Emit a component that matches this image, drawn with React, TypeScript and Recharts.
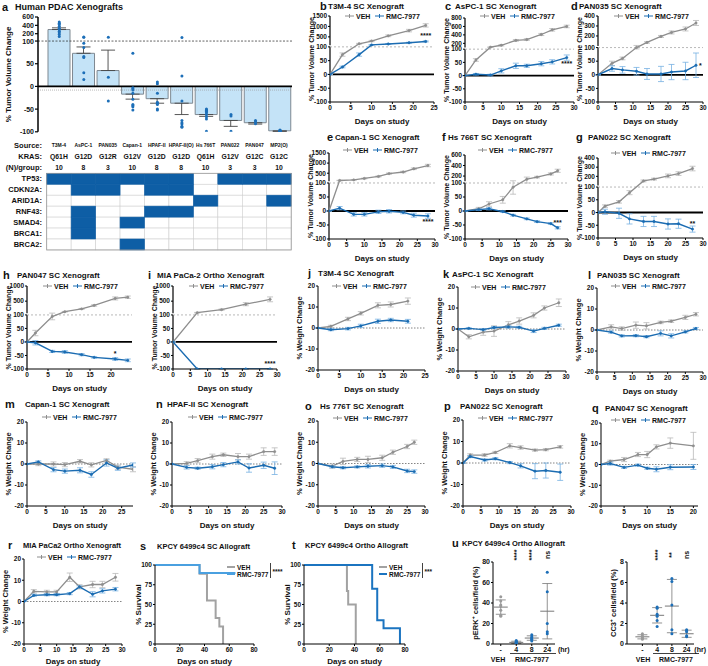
import React from "react";
import {
  LineChart,
  Line,
  XAxis,
  YAxis,
  ReferenceLine,
  ReferenceDot,
  ErrorBar,
  ComposedChart,
  Bar,
  Scatter,
  ScatterChart,
} from "recharts";

const FONT = "'Liberation Sans', Arial, Helvetica, sans-serif";
const INK = "#111";
const VEH_C = "#8e8e8e";
const RMC_C = "#1b6cb2";
const VEH_BAR = "#b9b9b9";
const RMC_BAR = "#77b1e2";
const TABLE_BLUE = "#0e5ea5";
const GAP = 6;

// ---------- a: waterfall + genotype table ----------
const SOURCES = ["T3M-4", "AsPC-1", "PAN035", "Capan-1", "HPAF-II", "HPAF-II(O)", "Hs 766T", "PAN022", "PAN047", "MP2(O)"];
const KRAS = ["Q61H", "G12D", "G12R", "G12V", "G12D", "G12D", "Q61H", "G12V", "G12C", "G12C"];
const N_PER_GROUP = [10, 8, 3, 10, 8, 8, 10, 3, 3, 10];
const GENES = ["TP53", "CDKN2A", "ARID1A", "RNF43", "SMAD4", "BRCA1", "BRCA2"];
const MUTATED = [
  [1, 1, 1, 1, 1, 1, 0, 1, 1, 1],
  [0, 1, 1, 0, 1, 1, 0, 0, 0, 0],
  [0, 0, 0, 0, 0, 0, 1, 0, 0, 1],
  [0, 1, 0, 0, 1, 1, 0, 0, 0, 0],
  [0, 1, 0, 1, 0, 0, 0, 0, 0, 0],
  [0, 1, 0, 0, 0, 0, 0, 0, 0, 0],
  [0, 0, 0, 1, 0, 0, 0, 0, 0, 0],
];
const A_MEAN = [300, 73, 35, -17, -27, -37, -62, -75, -80, -98];
const A_SEM = [40, 14, 45, 11, 10, 25, 4, 13, 3, 1];
const A_POINTS = [
  [480, 450, 420, 380, 330, 300, 260, 220, 180, 130],
  [120, 112, 95, 86, 66, 64, 30, 15],
  [112, 20, -32],
  [73, -3, -5, -8, -15, -28, -40, -42, -45, -52],
  [10, 6, -15, -35, -37, -40, -52, -50],
  [110, 23, -32, -75, -80, -83, -88, -90],
  [-50, -52, -52, -53, -55, -58, -62, -67, -72, -99],
  [-62, -65, -99],
  [-75, -78, -82],
  [-96, -97, -97, -98, -98, -98, -99, -99, -99, -100],
];

// ---------- tumour volume (b–i) ----------
const B_DAYS = [0, 3, 7, 10, 14, 19, 23];
const B_VEH = [0, 72, 170, 300, 550, 800, 1050];
const B_VEH_SD = [0, 6, 20, 30, 40, 60, 80];
const B_RMC = [0, 27, 72, 115, 160, 220, 280];
const B_RMC_SD = [0, 3, 6, 10, 15, 20, 25];

const C_DAYS = [0, 3, 7, 10, 14, 17, 21, 24, 28];
const C_VEH = [0, 59, 110, 155, 270, 290, 410, 520, 600];
const C_VEH_SD = [0, 5, 8, 15, 20, 20, 25, 30, 30];
const C_RMC = [0, 5, 2, 18, 37, 37, 45, 52, 68];
const C_RMC_SD = [0, 3, 3, 8, 10, 6, 8, 8, 10];

const D_DAYS = [0, 4, 7, 11, 14, 18, 21, 25, 28];
const D_VEH = [0, 42, 60, 100, 135, 195, 235, 270, 330];
const D_VEH_SD = [0, 8, 5, 5, 8, 10, 15, 20, 25];
const D_RMC = [0, 23, 18, 13, 3, 3, 10, 14, 35];
const D_RMC_SD = [0, 10, 12, 14, 20, 28, 28, 32, 45];

const E_DAYS = [0, 3, 7, 10, 14, 17, 21, 24, 28];
const E_VEH = [0, 140, 170, 240, 340, 480, 560, 720, 880];
const E_VEH_SD = [0, 10, 15, 20, 25, 30, 35, 40, 60];
const E_RMC = [0, 10, -12, -12, -3, -1, -5, -15, -18];
const E_RMC_SD = [0, 6, 6, 6, 6, 6, 5, 7, 8];

const F_DAYS = [0, 4, 7, 11, 14, 18, 21, 25, 27];
const F_VEH = [0, 8, 25, 40, 85, 140, 180, 240, 300];
const F_VEH_SD = [0, 5, 8, 12, 25, 40, 15, 20, 30];
const F_RMC = [0, 5, 8, -2, -15, -28, -38, -45, -60];
const F_RMC_SD = [0, 3, 4, 3, 3, 3, 3, 3, 4];

const G_DAYS = [0, 2, 6, 9, 13, 16, 20, 23, 27];
const G_VEH = [0, 25, 42, 78, 150, 170, 205, 230, 285];
const G_VEH_SD = [0, 5, 5, 8, 10, 10, 20, 20, 25];
const G_RMC = [0, 3, -3, -25, -35, -35, -45, -44, -65];
const G_RMC_SD = [0, 10, 20, 20, 20, 20, 20, 18, 12];

const H_DAYS = [0, 2, 6, 9, 13, 16, 21, 24];
const H_VEH = [0, 33, 94, 152, 245, 360, 590, 630];
const H_VEH_SD = [0, 10, 12, 10, 15, 25, 50, 40];
const H_RMC = [0, -3, -35, -37, -47, -57, -63, -68];
const H_RMC_SD = [0, 8, 4, 5, 4, 3, 5, 5];

const I_DAYS = [0, 7, 14, 21, 28];
const I_VEH = [0, 120, 220, 400, 560];
const I_VEH_SD = [0, 10, 20, 50, 80];
const I_RMC = [0, -100, -100, -100, -100];
const I_RMC_SD = [0, 0, 0, 0, 0];

// ---------- body weight (j–r) ----------
const J_DAYS = [0, 3, 7, 10, 14, 17, 21];
const J_VEH = [0, 0.8, 4.3, 7, 10.8, 11.2, 12.8];
const J_VEH_SD = [0, 0.5, 0.8, 0.8, 1.2, 1.2, 1.5];
const J_RMC = [0, -0.8, -0.3, 1, 3.2, 3.8, 3.2];
const J_RMC_SD = [0, 0.5, 0.6, 0.8, 1, 0.8, 0.9];

const K_DAYS = [0, 3, 7, 10, 14, 17, 21, 24, 28];
const K_VEH = [0, -3.7, -1.5, -1, 2, 3.8, 6.5, 10, 12.5];
const K_VEH_SD = [0, 1, 1.5, 2.5, 1.5, 1.5, 1.2, 1, 1.8];
const K_RMC = [0, 0.3, -0.3, 0.7, 1, 0.8, -1, 0.3, 1.8];
const K_RMC_SD = [0, 0.3, 0.5, 0.5, 0.6, 0.5, 0.7, 0.5, 0.5];

const L_DAYS = [0, 4, 7, 11, 14, 18, 21, 25, 28];
const L_VEH = [0, 1.5, 0.7, 2.3, 2, 3.6, 4.2, 6, 7.5];
const L_VEH_SD = [0, 1, 0.8, 1.5, 1.5, 0.6, 0.6, 1, 0.8];
const L_RMC = [0, -1, -2.8, -2.7, -3.2, -1.6, -2.8, -0.9, 0.7];
const L_RMC_SD = [0, 0.5, 0.5, 0.5, 0.5, 1.2, 1, 0.5, 0.5];

const M_DAYS = [0, 3, 7, 10, 14, 17, 21, 24, 28];
const M_VEH = [0, 0, 0, -0.3, 1.3, -0.4, 1.7, -1.5, -2.5];
const M_VEH_SD = [0, 0.8, 1, 1, 0.8, 1, 0.8, 1, 1.2];
const M_RMC = [0, 1, -2.7, -3.4, -3, -5, 0.5, -2, -0.5];
const M_RMC_SD = [0, 0.5, 1, 1, 1.2, 1.3, 1.5, 1, 1];

const N_DAYS = [0, 4, 7, 11, 14, 18, 21, 25, 28];
const N_VEH = [0, 0.3, 1.6, 3.5, 4.4, 3.5, 3.5, 5.9, 5.9];
const N_VEH_SD = [0, 0.8, 1, 1.2, 0.8, 1.5, 1.2, 1.8, 1.8];
const N_RMC = [0, -1.6, -2, -1.3, -0.3, 1, -1.9, -0.6, -2];
const N_RMC_SD = [0, 0.8, 0.5, 1, 1, 1, 2, 1.5, 3];

const O_DAYS = [0, 4, 7, 11, 14, 18, 21, 25, 27];
const O_VEH = [0, -1.2, 1, 1.9, 1.9, 2.7, 5.3, 8, 10];
const O_VEH_SD = [0, 1, 1.5, 1, 1.5, 1.2, 1, 1, 1];
const O_RMC = [0, -1.5, -2, -1.6, -1.3, -1, -1.6, -3.5, -3.8];
const O_RMC_SD = [0, 0.5, 0.5, 0.5, 0.8, 0.8, 0.7, 0.8, 0.8];

const P_DAYS = [0, 2, 6, 9, 13, 16, 20, 23, 27];
const P_VEH = [0, 3.7, 3.7, 4.9, 8, 7.2, 6, 6.2, 7.5];
const P_VEH_SD = [0, 0.6, 0.6, 0.5, 1, 0.8, 0.5, 0.5, 0.6];
const P_RMC = [0, 3, 1.4, 2, 0.2, -1.3, -3.8, -3.5, -4.3];
const P_RMC_SD = [0, 0.5, 0.5, 0.5, 0.5, 1, 3.5, 3.5, 3.8];

const Q_DAYS = [0, 2, 5, 8, 10, 12, 15, 20];
const Q_VEH = [0, 1.6, 2.4, 4.8, 4.8, 8.5, 10.3, 9];
const Q_VEH_SD = [0, 0.5, 1, 1, 1.5, 1, 2.5, 6.5];
const Q_RMC = [0, 0.5, -1.4, -0.3, -1.8, -2.3, -1.3, -1.2];
const Q_RMC_SD = [0, 0.8, 0.5, 0.5, 0.5, 1.2, 1.2, 1.2];

const R_DAYS = [0, 3, 7, 10, 14, 17, 21, 24, 28];
const R_VEH = [0, 4.8, 4.5, 4.5, 11.4, 6.9, 8, 8, 11.4];
const R_VEH_SD = [0, 0.8, 0.8, 0.8, 2, 1, 1.5, 1.5, 1.8];
const R_RMC = [0, 2.9, 3.2, 3.2, 3.7, 6.9, 3.4, 5, 5.8];
const R_RMC_SD = [0, 0.5, 0.5, 0.5, 0.5, 0.5, 1.2, 1, 0.8];

// ---------- survival (s, t) ----------
const S_VEH_DAYS = [0, 36, 42, 49, 52, 55];
const S_VEH_PCT = [100, 89, 55, 33, 22, 0];
const S_RMC_DAYS = [0, 36, 65];
const S_RMC_PCT = [100, 90, 90];
const T_VEH_DAYS = [0, 34, 35, 41];
const T_VEH_PCT = [100, 67, 50, 0];
const T_RMC_DAYS = [0, 54, 58, 63, 76];
const T_RMC_PCT = [100, 70, 30, 20, 0];

// ---------- u: IHC quantification ----------
const U_GROUPS = ["-", "4", "8", "24"];
const PERK_POINTS = [
  [46, 42, 38, 37, 33, 28, 27],
  [3.5, 2.5, 2, 1.5, 1, 0.5, 0.5],
  [9, 7, 6, 5, 4.5, 3],
  [70, 51, 20, 12, 10],
];
const PERK_MEAN = [36, 1.6, 5.8, 32];
const PERK_SD = [7, 1.1, 2.2, 27];
const PERK_SIG = ["", "****", "****", "ns"];
const CC3_POINTS = [
  [1.0, 0.8, 0.7, 0.6, 0.5, 0.5],
  [3.6, 3.5, 2.9, 2.7, 2.3, 1.7],
  [6.4, 6.1, 3.8, 1.4, 1.0],
  [1.4, 1.3, 1.2, 0.8, 0.7],
];
const CC3_MEAN = [0.7, 2.8, 3.7, 1.0];
const CC3_SD = [0.2, 0.75, 2.6, 0.35];
const CC3_SIG = ["", "****", "**", "ns"];

const TICK = { fontSize: 6.5, fontWeight: 700, fill: INK };
const AX = { stroke: "#000", strokeWidth: 1 };
const DAYS_LABEL = { value: "Days on study", position: "insideBottom", offset: 0, fontSize: 8, fontWeight: 700, fill: INK };

function brokenScale(max: number, frac: number, gap = GAP) {
  const k = (frac * 200) / (max - 100);
  return (v: number) => (v <= 100 ? v : 100 + gap + (v - 100) * k);
}

function toRows(days: number[], vals: number[], sd: number[], f: (v: number) => number) {
  return days.map((d, i) => {
    const y = f(vals[i]);
    return { day: d, y, e: [y - f(vals[i] - sd[i]), f(vals[i] + sd[i]) - y] };
  });
}

function VLabel(props: any) {
  const { viewBox, value, dx = 5, size = 7.5 } = props;
  if (!viewBox) return null;
  const x = viewBox.x + dx;
  const y = viewBox.y + viewBox.height / 2;
  return (
    <text x={x} y={y} transform={`rotate(-90 ${x} ${y})`} textAnchor="middle" dominantBaseline="central"
      fontSize={size} fontWeight={700} fill={INK}>
      {value}
    </text>
  );
}

type Box = { x: number; y: number; w: number; h: number };

function spec(days, veh, vehSd, rmc, rmcSd, xMax, xTicks, broken?, stars?) {
  return { days, veh, vehSd, rmc, rmcSd, xMax, xTicks, broken, stars };
}

const T30 = [0, 5, 10, 15, 20, 25, 30];
const T25 = [0, 5, 10, 15, 20, 25];
const T20 = [0, 5, 10, 15, 20];

const LINE_PANELS = [
  { id: "b", box: { x: 330, y: 16, w: 104, h: 86 }, s: spec(B_DAYS, B_VEH, B_VEH_SD, B_RMC, B_RMC_SD, 25, T25, { max: 1500, upper: [500, 1000, 1500], frac: 0.53 }, { text: "****", idx: 6, pos: "top" }) },
  { id: "c", box: { x: 465, y: 18, w: 109, h: 84 }, s: spec(C_DAYS, C_VEH, C_VEH_SD, C_RMC, C_RMC_SD, 30, T30, { max: 800, upper: [200, 400, 600, 800], frac: 0.56 }, { text: "****", idx: 8, pos: "bottom" }) },
  { id: "d", box: { x: 598, y: 16, w: 105, h: 86 }, s: spec(D_DAYS, D_VEH, D_VEH_SD, D_RMC, D_RMC_SD, 30, T30, { max: 400, upper: [200, 300, 400], frac: 0.55 }, { text: "*", idx: 8, pos: "right" }) },
  { id: "e", box: { x: 329, y: 153, w: 106, h: 86 }, s: spec(E_DAYS, E_VEH, E_VEH_SD, E_RMC, E_RMC_SD, 30, T30, { max: 1500, upper: [500, 1000, 1500], frac: 0.505 }, { text: "****", idx: 8, pos: "bottom" }) },
  { id: "f", box: { x: 465, y: 155, w: 103, h: 84 }, s: spec(F_DAYS, F_VEH, F_VEH_SD, F_RMC, F_RMC_SD, 30, T30, { max: 600, upper: [200, 400, 600], frac: 0.47 }, { text: "***", idx: 8, pos: "top" }) },
  { id: "g", box: { x: 598, y: 158, w: 105, h: 80 }, s: spec(G_DAYS, G_VEH, G_VEH_SD, G_RMC, G_RMC_SD, 30, T30, { max: 400, upper: [200, 300, 400], frac: 0.54 }, { text: "**", idx: 8, pos: "top" }) },
  { id: "h", box: { x: 27, y: 286, w: 105, h: 83 }, s: spec(H_DAYS, H_VEH, H_VEH_SD, H_RMC, H_RMC_SD, 25, T20, { max: 1000, upper: [500, 1000], frac: 0.505 }, { text: "*", idx: 6, pos: "top" }) },
  { id: "i", box: { x: 173, y: 286, w: 104, h: 83 }, s: spec(I_DAYS, I_VEH, I_VEH_SD, I_RMC, I_RMC_SD, 30, T30, { max: 1000, upper: [500, 1000], frac: 0.505 }, { text: "****", idx: 4, pos: "top" }) },
  { id: "j", box: { x: 318, y: 286, w: 107, h: 84 }, s: spec(J_DAYS, J_VEH, J_VEH_SD, J_RMC, J_RMC_SD, 25, T25) },
  { id: "k", box: { x: 458, y: 287, w: 108, h: 84 }, s: spec(K_DAYS, K_VEH, K_VEH_SD, K_RMC, K_RMC_SD, 30, T30) },
  { id: "l", box: { x: 597, y: 288, w: 106, h: 84 }, s: spec(L_DAYS, L_VEH, L_VEH_SD, L_RMC, L_RMC_SD, 30, T30) },
  { id: "m", box: { x: 27, y: 422, w: 106, h: 84 }, s: spec(M_DAYS, M_VEH, M_VEH_SD, M_RMC, M_RMC_SD, 28, T25) },
  { id: "n", box: { x: 172, y: 422, w: 110, h: 84 }, s: spec(N_DAYS, N_VEH, N_VEH_SD, N_RMC, N_RMC_SD, 30, T30) },
  { id: "o", box: { x: 318, y: 421, w: 107, h: 85 }, s: spec(O_DAYS, O_VEH, O_VEH_SD, O_RMC, O_RMC_SD, 30, T30) },
  { id: "p", box: { x: 463, y: 420, w: 108, h: 86 }, s: spec(P_DAYS, P_VEH, P_VEH_SD, P_RMC, P_RMC_SD, 30, T30) },
  { id: "q", box: { x: 601, y: 423, w: 97, h: 83 }, s: spec(Q_DAYS, Q_VEH, Q_VEH_SD, Q_RMC, Q_RMC_SD, 21, T20) },
  { id: "r", box: { x: 24, y: 559, w: 98, h: 85 }, s: spec(R_DAYS, R_VEH, R_VEH_SD, R_RMC, R_RMC_SD, 30, T30), xh: 20 },
];

function LinePanel({ box, s, xh = 22 }: { box: Box; s: any; xh?: number }) {
  const yw = 24, mt = 4, mr = 6, mb = 3;
  const br = s.broken;
  const f = br ? brokenScale(br.max, br.frac) : (v: number) => v;
  const base = br ? [-100, -50, 0, 50, 100] : [-20, -10, 0, 10, 20];
  const ticks = br ? [...base, ...br.upper.map(f)] : base;
  const names = (br ? [...base, ...br.upper] : base).map(String);
  const fmt = (v: number) => {
    const i = ticks.findIndex((t) => Math.abs(t - v) < 1e-6);
    return i < 0 ? "" : names[i];
  };
  const lo = br ? -100 : -20;
  const hi = br ? f(br.max) : 20;
  const veh = toRows(s.days, s.veh, s.vehSd, f);
  const rmc = toRows(s.days, s.rmc, s.rmcSd, f);
  const star = s.stars ? rmc[s.stars.idx] : null;
  return (
    <div style={{ position: "absolute", left: box.x - yw, top: box.y - mt }}>
      <LineChart width={box.w + yw + mr} height={box.h + mt + xh + mb} margin={{ top: mt, right: mr, bottom: mb, left: 0 }}>
        <XAxis type="number" dataKey="day" domain={[0, s.xMax]} ticks={s.xTicks} interval={0} allowDataOverflow
          height={xh} tick={TICK} tickSize={2} tickMargin={1} axisLine={AX} tickLine={AX} label={DAYS_LABEL} />
        <YAxis type="number" domain={[lo, hi]} ticks={ticks} interval={0} allowDataOverflow tickFormatter={fmt}
          width={yw} tick={TICK} tickSize={2} tickMargin={1} axisLine={br ? false : AX} tickLine={AX}
          label={<VLabel value={br ? "% Tumor Volume Change" : "% Weight Change"} dx={5} size={br ? 7 : 7.5} />} />
        {br && <ReferenceLine segment={[{ x: 0, y: -100 }, { x: 0, y: 100 }]} stroke="#000" strokeWidth={1.2} />}
        {br && <ReferenceLine segment={[{ x: 0, y: 100 + GAP }, { x: 0, y: hi }]} stroke="#000" strokeWidth={1.2} />}
        {br && <ReferenceLine y={100} stroke="#9a9a9a" strokeDasharray="2 2" strokeWidth={0.7} />}
        {br ? (
          <ReferenceLine y={0} stroke="#000" strokeWidth={1.8} />
        ) : (
          <ReferenceLine y={0} stroke="#666" strokeDasharray="1.5 1.5" strokeWidth={0.8} />
        )}
        <Line data={veh} dataKey="y" stroke={VEH_C} strokeWidth={1.3} isAnimationActive={false}
          dot={{ r: 1.2, fill: VEH_C, stroke: VEH_C, strokeWidth: 0.5 }}>
          <ErrorBar dataKey="e" width={3} stroke={VEH_BAR} strokeWidth={0.8} direction="y" />
        </Line>
        <Line data={rmc} dataKey="y" stroke={RMC_C} strokeWidth={1.4} isAnimationActive={false}
          dot={{ r: 1.2, fill: RMC_C, stroke: RMC_C, strokeWidth: 0.5 }}>
          <ErrorBar dataKey="e" width={3} stroke={RMC_BAR} strokeWidth={0.8} direction="y" />
        </Line>
        {star && (
          <ReferenceDot x={star.day} y={star.y} r={0} ifOverflow="visible"
            label={{ value: s.stars.text, position: s.stars.pos, offset: 3, fontSize: 7, fontWeight: 700, fill: INK }} />
        )}
      </LineChart>
    </div>
  );
}

function BarPanel() {
  const box = { x: 37.7, y: 17.2, w: 254.3, h: 114.8 };
  const yw = 34, mt = 6, mb = 6;
  const f = brokenScale(600, 0.23, 7);
  const rows = SOURCES.map((src, i) => {
    const m = f(A_MEAN[i]);
    const e = A_MEAN[i] >= 0 ? [0, f(A_MEAN[i] + A_SEM[i]) - m] : [m - f(A_MEAN[i] - A_SEM[i]), 0];
    return { src, m, e };
  });
  const pts = SOURCES.flatMap((src, i) => A_POINTS[i].map((v) => ({ src, y: f(v) })));
  const base = [-100, -50, 0, 50, 100];
  const upper = [200, 400, 600];
  const ticks = [...base, ...upper.map(f)];
  const names = [...base, ...upper].map(String);
  const fmt = (v: number) => {
    const i = ticks.findIndex((t) => Math.abs(t - v) < 1e-6);
    return i < 0 ? "" : names[i];
  };
  return (
    <div style={{ position: "absolute", left: box.x - yw, top: box.y - mt }}>
      <ComposedChart width={box.w + yw} height={box.h + mt + mb} data={rows} margin={{ top: mt, right: 0, bottom: mb, left: 0 }}>
        <XAxis dataKey="src" type="category" hide padding={{ left: 9, right: 0 }} allowDuplicatedCategory={false} />
        <YAxis type="number" domain={[-100, f(600)]} ticks={ticks} interval={0} allowDataOverflow tickFormatter={fmt}
          width={yw} tick={{ ...TICK, fontSize: 7 }} tickSize={3} tickMargin={1} axisLine={{ stroke: "#000", strokeWidth: 1.5 }}
          tickLine={{ stroke: "#000", strokeWidth: 1.2 }}
          label={<VLabel value="% Tumor Volume Change" dx={4.6} size={8} />} />
        <ReferenceLine y={100} stroke="#222" strokeDasharray="2 1.5" strokeWidth={0.7} />
        <ReferenceLine y={-8} stroke="#999" strokeDasharray="1 1" strokeWidth={0.7} />
        <Bar dataKey="m" barSize={22} fill="#c4e3f7" stroke="#7d8891" strokeWidth={1} isAnimationActive={false}>
          <ErrorBar dataKey="e" width={7} stroke="#444" strokeWidth={0.9} direction="y" />
        </Bar>
        <ReferenceLine y={0} stroke="#000" strokeWidth={1.6} />
        <Scatter data={pts} dataKey="y" isAnimationActive={false}
          shape={(p: any) => <circle cx={p.cx} cy={p.cy} r={1.5} fill="#1d6fb8" />} />
      </ComposedChart>
    </div>
  );
}

function SurvPanel({ box, vehDays, vehPct, rmcDays, rmcPct, rmcColor }) {
  const yw = 24, mt = 4, mr = 4, xh = 20, mb = 3;
  const veh = vehDays.map((x, i) => ({ x, y: vehPct[i] }));
  const rmc = rmcDays.map((x, i) => ({ x, y: rmcPct[i] }));
  return (
    <div style={{ position: "absolute", left: box.x - yw, top: box.y - mt }}>
      <LineChart width={box.w + yw + mr} height={box.h + mt + xh + mb} margin={{ top: mt, right: mr, bottom: mb, left: 0 }}>
        <XAxis type="number" dataKey="x" domain={[0, 80]} ticks={[0, 20, 40, 60, 80]} interval={0} allowDataOverflow
          height={xh} tick={TICK} tickSize={2} tickMargin={1} axisLine={AX} tickLine={AX} label={DAYS_LABEL} />
        <YAxis type="number" domain={[0, 100]} ticks={[0, 25, 50, 75, 100]} interval={0} width={yw} tick={TICK}
          tickSize={2} tickMargin={1} axisLine={AX} tickLine={AX} label={<VLabel value="% Survival" dx={7} size={8} />} />
        <Line data={veh} dataKey="y" type="stepAfter" stroke="#a2a2a2" strokeWidth={2} dot={false} isAnimationActive={false} />
        <Line data={rmc} dataKey="y" type="stepAfter" stroke={rmcColor} strokeWidth={2} dot={false} isAnimationActive={false} />
      </LineChart>
    </div>
  );
}

function DotPanel({ box, points, means, sds, sig, yMax, yTicks, label, labelDx, padL }) {
  const yw = 24, mt = 20, mr = 2, xh = 12;
  const meanRows = U_GROUPS.map((g, i) => ({ g, v: means[i], e: sds[i] }));
  const vehPts = points[0].map((v) => ({ g: U_GROUPS[0], v }));
  const rmcPts = points.slice(1).flatMap((arr, i) => arr.map((v) => ({ g: U_GROUPS[i + 1], v })));
  return (
    <div style={{ position: "absolute", left: box.x - yw, top: box.y - mt }}>
      <ScatterChart width={box.w + yw + mr} height={box.h + mt + xh} margin={{ top: mt, right: mr, bottom: 0, left: 0 }}>
        <XAxis type="category" dataKey="g" allowDuplicatedCategory={false} padding={{ left: padL, right: 0 }}
          height={xh} tick={{ ...TICK, fontSize: 7 }} tickSize={2} tickMargin={1} axisLine={AX} tickLine={AX} />
        <YAxis type="number" dataKey="v" domain={[0, yMax]} ticks={yTicks} interval={0} allowDataOverflow width={yw}
          tick={{ ...TICK, fontSize: 7 }} tickSize={2} tickMargin={1} axisLine={AX} tickLine={AX}
          label={<VLabel value={label} dx={labelDx} size={7.5} />} />
        <Scatter data={meanRows} isAnimationActive={false}
          shape={(p: any) => <line x1={p.cx - 7} x2={p.cx + 7} y1={p.cy} y2={p.cy} stroke="#777" strokeWidth={1} />}>
          <ErrorBar dataKey="e" width={5} stroke="#777" strokeWidth={0.8} direction="y" />
        </Scatter>
        <Scatter data={vehPts} isAnimationActive={false}
          shape={(p: any) => <circle cx={p.cx} cy={p.cy} r={1.5} fill="#9a9a9a" />} />
        <Scatter data={rmcPts} isAnimationActive={false}
          shape={(p: any) => <circle cx={p.cx} cy={p.cy} r={1.5} fill="#1d6fb8" />} />
        {U_GROUPS.map((g, i) =>
          sig[i] ? (
            <ReferenceDot key={g} x={g} y={yMax * 1.085} r={0} ifOverflow="visible"
              label={{ value: sig[i], position: "center", angle: -90, fontSize: 7, fontWeight: 700, fill: INK }} />
          ) : null
        )}
      </ScatterChart>
    </div>
  );
}

const TITLES = [
  { l: "a", lx: 2, tx: 15, y: 7, t: "Human PDAC Xenografts", fs: 9 },
  { l: "b", lx: 320, tx: 328, y: 6, t: "T3M-4 SC Xenograft" },
  { l: "c", lx: 445, tx: 455, y: 6, t: "AsPC-1 SC Xenograft" },
  { l: "d", lx: 571, tx: 579, y: 6, t: "PAN035 SC Xenograft" },
  { l: "e", lx: 327, tx: 335, y: 137, t: "Capan-1 SC Xenograft" },
  { l: "f", lx: 442, tx: 448, y: 137, t: "Hs 766T SC Xenograft" },
  { l: "g", lx: 576, tx: 588, y: 137, t: "PAN022 SC Xenograft" },
  { l: "h", lx: 3, tx: 17, y: 275, t: "PAN047 SC Xenograft" },
  { l: "i", lx: 148, tx: 157, y: 275, t: "MIA PaCa-2 Ortho Xenograft" },
  { l: "j", lx: 308, tx: 318, y: 273, t: "T3M-4 SC Xenograft" },
  { l: "k", lx: 443, tx: 452, y: 274, t: "AsPC-1 SC Xenograft" },
  { l: "l", lx: 588, tx: 597, y: 275, t: "PAN035 SC Xenograft" },
  { l: "m", lx: 5, tx: 25, y: 404, t: "Capan-1 SC Xenograft" },
  { l: "n", lx: 156, tx: 167, y: 404, t: "HPAF-II SC Xenograft" },
  { l: "o", lx: 305, tx: 320, y: 406, t: "Hs 776T SC Xenograft" },
  { l: "p", lx: 444, tx: 460, y: 406, t: "PAN022 SC Xenograft" },
  { l: "q", lx: 592, tx: 605, y: 408, t: "PAN047 SC Xenograft" },
  { l: "r", lx: 8, tx: 23, y: 545, t: "MIA PaCa2 Ortho Xenograft", fs: 7.5 },
  { l: "s", lx: 140, tx: 157, y: 546, t: "KPCY 6499c4 SC Allograft", fs: 7.5 },
  { l: "t", lx: 292, tx: 305, y: 545, t: "KPCY 6499c4 Ortho Allograft", fs: 7.5 },
  { l: "u", lx: 452, tx: 462, y: 543, t: "KPCY 6499c4 Ortho Allograft", fs: 7.5 },
];

const LEGENDS = [
  [384, 16], [519, 16], [653, 16], [382, 150], [517, 150], [650, 153],
  [82, 286], [228, 286], [371, 286], [510, 287], [650, 286],
  [81, 417], [227, 417], [372, 418], [517, 418], [650, 420], [76, 557],
];

function Key({ x, y, color }) {
  return (
    <g stroke={color} strokeWidth={1}>
      <line x1={x} y1={y} x2={x + 9} y2={y} />
      <line x1={x + 4.5} y1={y - 2} x2={x + 4.5} y2={y + 2} />
    </g>
  );
}

function SeriesKey({ cx, y }) {
  const x = cx - 39;
  return (
    <g fontSize={7}>
      <Key x={x} y={y} color={VEH_C} />
      <text x={x + 11} y={y} dominantBaseline="central">VEH</text>
      <Key x={x + 30} y={y} color={RMC_C} />
      <text x={x + 41} y={y} dominantBaseline="central">RMC-7977</text>
    </g>
  );
}

function SurvKey({ x, y, rmcColor, stars }) {
  return (
    <g fontSize={6.5}>
      <line x1={x} y1={y} x2={x + 8} y2={y} stroke="#a2a2a2" strokeWidth={2} />
      <text x={x + 10} y={y} dominantBaseline="central">VEH</text>
      <line x1={x} y1={y + 7} x2={x + 8} y2={y + 7} stroke={rmcColor} strokeWidth={2} />
      <text x={x + 10} y={y + 7} dominantBaseline="central">RMC-7977</text>
      <line x1={x + 43.5} y1={y - 4} x2={x + 43.5} y2={y + 11} stroke={INK} strokeWidth={0.8} />
      <text x={x + 45.5} y={y + 4} dominantBaseline="central">{stars}</text>
    </g>
  );
}

function MutationTable() {
  const x0 = 46.7, cw = 24.45, y0 = 173.3, rh = 10.95, lx = 42;
  const cx = (i: number) => x0 + (i + 0.5) * cw;
  return (
    <g>
      <text x={lx} y={145} textAnchor="end" fontSize={7.5} dominantBaseline="central">Source:</text>
      <text x={lx} y={156} textAnchor="end" fontSize={7.5} dominantBaseline="central">KRAS:</text>
      <text x={lx} y={167} textAnchor="end" fontSize={7.5} dominantBaseline="central">(N)/group:</text>
      {SOURCES.map((s, i) => (
        <text key={s} x={cx(i)} y={145} textAnchor="middle" fontSize={5} dominantBaseline="central">{s}</text>
      ))}
      {KRAS.map((k, i) => (
        <text key={i} x={cx(i)} y={156} textAnchor="middle" fontSize={6.8} dominantBaseline="central">{k}</text>
      ))}
      {N_PER_GROUP.map((n, i) => (
        <text key={i} x={cx(i)} y={167} textAnchor="middle" fontSize={6.8} dominantBaseline="central">{n}</text>
      ))}
      {GENES.map((g, r) => (
        <g key={g}>
          <text x={lx} y={y0 + (r + 0.5) * rh} textAnchor="end" fontSize={7.5} dominantBaseline="central">{g}:</text>
          {MUTATED[r].map((m, c) => (
            <rect key={c} x={x0 + c * cw} y={y0 + r * rh} width={cw} height={rh} fill="#fff" stroke="#d0d0d0" strokeWidth={0.6} />
          ))}
        </g>
      ))}
      {GENES.map((g, r) =>
        MUTATED[r].map((m, c) =>
          m ? (
            <rect key={`${g}-${c}`} x={x0 + c * cw} y={y0 + r * rh} width={cw} height={rh} fill={TABLE_BLUE} stroke={TABLE_BLUE} strokeWidth={0.6} />
          ) : null
        )
      )}
      <rect x={x0} y={y0} width={cw * 10} height={rh * 7} fill="none" stroke="#9a9a9a" strokeWidth={0.8} />
    </g>
  );
}

function Overlay() {
  return (
    <svg width={708} height={666} style={{ position: "absolute", left: 0, top: 0, pointerEvents: "none" }}
      fontFamily={FONT} fontWeight={700} fill={INK}>
      {TITLES.map((t) => (
        <g key={t.l}>
          <text x={t.lx} y={t.y} fontSize={11} dominantBaseline="central">{t.l}</text>
          <text x={t.tx} y={t.y} fontSize={t.fs ?? 8} dominantBaseline="central">{t.t}</text>
        </g>
      ))}
      {LEGENDS.map(([cx, y], i) => <SeriesKey key={i} cx={cx} y={y} />)}
      <MutationTable />
      <SurvKey x={227} y={567} rmcColor="#4aa0e0" stars="****" />
      <SurvKey x={379} y={567} rmcColor="#1b74c0" stars="***" />
      <g fontSize={7}>
        <text x={558} y={649} dominantBaseline="central">(hr)</text>
        <text x={706} y={649} dominantBaseline="central" textAnchor="end">(hr)</text>
        <text x={498} y={659} textAnchor="middle" dominantBaseline="central">VEH</text>
        <text x={532} y={659} textAnchor="middle" dominantBaseline="central">RMC-7977</text>
        <line x1={510} y1={653.5} x2={556} y2={653.5} stroke={INK} strokeWidth={0.8} />
        <text x={643} y={659} textAnchor="middle" dominantBaseline="central">VEH</text>
        <text x={676} y={659} textAnchor="middle" dominantBaseline="central">RMC-7977</text>
        <line x1={653} y1={653.5} x2={699} y2={653.5} stroke={INK} strokeWidth={0.8} />
      </g>
    </svg>
  );
}

export default function App() {
  return (
    <div style={{ position: "absolute", left: 0, top: 0, width: 708, height: 666, background: "#fff", overflow: "hidden", fontFamily: FONT }}>
      <BarPanel />
      {LINE_PANELS.map((p) => (
        <LinePanel key={p.id} box={p.box} s={p.s} xh={p.xh} />
      ))}
      <SurvPanel box={{ x: 155, y: 565, w: 99, h: 79 }} vehDays={S_VEH_DAYS} vehPct={S_VEH_PCT}
        rmcDays={S_RMC_DAYS} rmcPct={S_RMC_PCT} rmcColor="#4aa0e0" />
      <SurvPanel box={{ x: 304, y: 565, w: 101, h: 79 }} vehDays={T_VEH_DAYS} vehPct={T_VEH_PCT}
        rmcDays={T_RMC_DAYS} rmcPct={T_RMC_PCT} rmcColor="#1b74c0" />
      <DotPanel box={{ x: 493, y: 562, w: 62, h: 82 }} points={PERK_POINTS} means={PERK_MEAN} sds={PERK_SD}
        sig={PERK_SIG} yMax={80} yTicks={[0, 20, 40, 60, 80]} label="pERK⁺ cells/field (%)" labelDx={6} padL={0} />
      <DotPanel box={{ x: 627, y: 562, w: 67, h: 82 }} points={CC3_POINTS} means={CC3_MEAN} sds={CC3_SD}
        sig={CC3_SIG} yMax={8} yTicks={[0, 2, 4, 6, 8]} label="CC3⁺ cells/field (%)" labelDx={10} padL={8} />
      <Overlay />
    </div>
  );
}
